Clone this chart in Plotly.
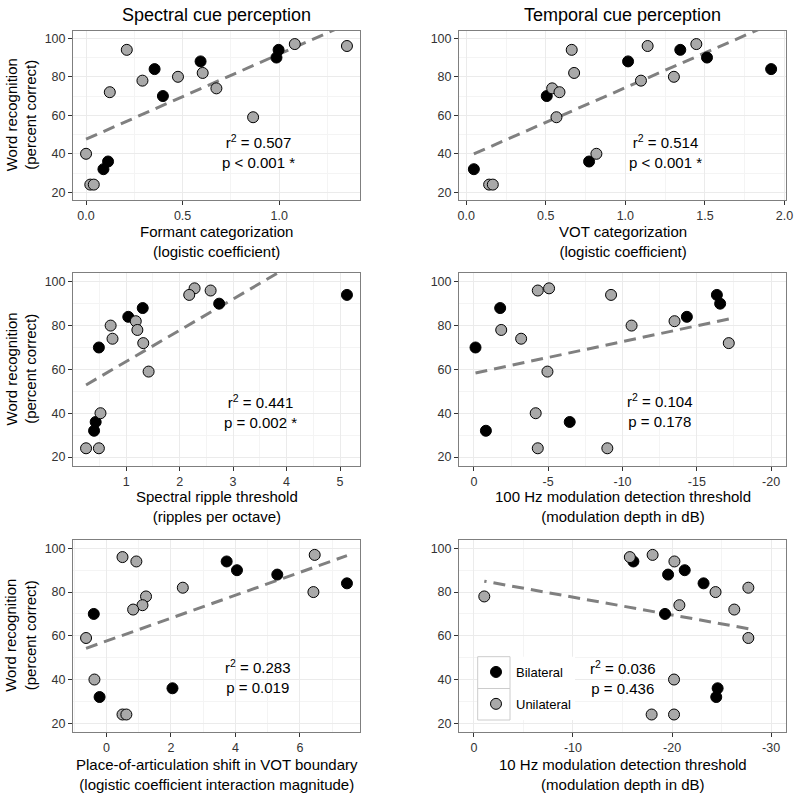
import numpy as np
import plotly.graph_objects as go

# ---------------- data (one entry per listener) ----------------
group = ["Bilateral"] * 7 + ["Unilateral"] * 12
word_recognition = [94, 90, 88, 84, 70, 36, 32,
                    97, 96, 94, 82, 80, 78, 74, 72, 59, 40, 24, 24]

formant_categorization = [0.997, 0.986, 0.593, 0.355, 0.398, 0.114, 0.090,
                          1.081, 1.351, 0.211, 0.604, 0.476, 0.292, 0.675, 0.123, 0.865, 0.000, 0.022, 0.040]
vot_categorization = [1.345, 1.513, 1.017, 1.916, 0.506, 0.772, 0.048,
                      1.446, 1.140, 0.663, 0.678, 1.305, 1.098, 0.540, 0.586, 0.567, 0.818, 0.144, 0.167]
ripple_threshold = [5.13, 2.74, 1.31, 1.04, 0.49, 0.43, 0.40,
                    2.28, 2.58, 2.18, 1.18, 0.71, 1.21, 0.745, 1.32, 1.42, 0.52, 0.25, 0.49]
am100_threshold = [-16.35, -16.57, -1.77, -14.33, -0.11, -6.45, -0.81,
                   -5.06, -4.30, -9.23, -13.50, -10.61, -1.84, -3.18, -17.15, -4.95, -4.16, -4.30, -8.98]
poa_shift = [3.73, 4.05, 5.30, 7.46, -0.39, 2.05, -0.21,
             6.46, 0.50, 0.93, 2.37, 6.42, 1.23, 1.12, 0.83, -0.63, -0.37, 0.50, 0.62]
am10_threshold = [-16.1, -21.28, -19.6, -23.18, -19.29, -24.6, -24.46,
                  -18.04, -15.74, -20.24, -27.70, -24.39, -1.05, -20.74, -26.28, -27.70, -20.2, -17.94, -20.2]

x_titles = ["Formant categorization<br>(logistic coefficient)",
            "VOT categorization<br>(logistic coefficient)",
            "Spectral ripple threshold<br>(ripples per octave)",
            "100 Hz modulation detection threshold<br>(modulation depth in dB)",
            "Place-of-articulation shift in VOT boundary<br>(logistic coefficient interaction magnitude)",
            "10 Hz modulation detection threshold<br>(modulation depth in dB)"]
y_title = "Word recognition<br>(percent correct)"
r2_labels = ["0.507", "0.514", "0.441", "0.104", "0.283", "0.036"]
p_labels = ["p < 0.001 *", "p < 0.001 *", "p = 0.002 *", "p = 0.178", "p = 0.019", "p = 0.436"]

x_tickvals = [[0, 0.5, 1.0], [0, 0.5, 1.0, 1.5, 2.0], [1, 2, 3, 4, 5],
              [0, -5, -10, -15, -20], [0, 2, 4, 6], [0, -10, -20, -30]]
x_ticktext = [["0.0", "0.5", "1.0"], ["0.0", "0.5", "1.0", "1.5", "2.0"], ["1", "2", "3", "4", "5"],
              ["0", "-5", "-10", "-15", "-20"], ["0", "2", "4", "6"], ["0", "-10", "-20", "-30"]]
x_fixed_limits = [None, None, None, (0, -20), None, (0, -30)]
y_tickvals = [20, 40, 60, 80, 100]
y_limits = (20, 100)
column_titles = ["Spectral cue perception", "Temporal cue perception"]

# ---------------- layout geometry ----------------
W, H = 800, 797
FONT = "Liberation Sans, Arial, Helvetica, sans-serif"
col_px = [(73, 360), (459, 786)]
row_px = [(30.6, 200), (273, 465.8), (539.6, 732)]
xtitle_mid_px = [241.5, 506.8, 774]
ytitle_x_px = 21
ann_px = [(258.3, 151.7), (665.5, 151.7), (260, 411.2),
          (659.3, 410.9), (257.3, 676.7), (622.7, 677)]

xs_all = [formant_categorization, vot_categorization, ripple_threshold,
          am100_threshold, poa_shift, am10_threshold]
colors = {"Bilateral": "black", "Unilateral": "#A9A9A9"}

fig = go.Figure()
layout = dict(width=W, height=H, margin=dict(l=0, r=0, t=0, b=0),
              paper_bgcolor="white", plot_bgcolor="white",
              font=dict(family=FONT, color="black"), showlegend=True)
annotations = []

y_arr = np.array(word_recognition, dtype=float)
gr = np.array(group)
for i, xs in enumerate(xs_all):
    k = i + 1
    r, c = divmod(i, 2)
    xa = "x" if k == 1 else f"x{k}"
    ya = "y" if k == 1 else f"y{k}"
    x_arr = np.array(xs, dtype=float)

    # regression line (lm over all listeners)
    m, b = np.polyfit(x_arr, y_arr, 1)
    xl = np.array([x_arr.min(), x_arr.max()])
    fig.add_trace(go.Scatter(x=xl, y=m * xl + b, mode="lines", xaxis=xa, yaxis=ya,
                             line=dict(color="#808080", width=3, dash="12px,7px"),
                             showlegend=False, hoverinfo="skip"))
    for g in ["Bilateral", "Unilateral"]:
        sel = gr == g
        fig.add_trace(go.Scatter(x=x_arr[sel], y=y_arr[sel], mode="markers", name=g,
                                 xaxis=xa, yaxis=ya, legendgroup=g,
                                 showlegend=(k == 6),
                                 marker=dict(size=11, color=colors[g],
                                             line=dict(color="black", width=1))))

    # axis ranges (ggplot-style 5% expansion)
    if x_fixed_limits[i] is None:
        lo, hi = x_arr.min(), x_arr.max()
    else:
        lo, hi = x_fixed_limits[i]
    span = hi - lo
    xr = [lo - 0.05 * span, hi + 0.05 * span]
    yspan = y_limits[1] - y_limits[0]
    yr = [y_limits[0] - 0.05 * yspan, y_limits[1] + 0.05 * yspan]

    x0p, x1p = col_px[c]
    y0p, y1p = row_px[r]
    xdom = [x0p / W, x1p / W]
    ydom = [1 - y1p / H, 1 - y0p / H]
    tv = x_tickvals[i]
    step = abs(tv[1] - tv[0])
    common = dict(showline=True, mirror=True, linecolor="#7F7F7F", linewidth=1,
                  ticks="outside", ticklen=4, tickwidth=1, tickcolor="#333333",
                  showgrid=True, gridcolor="#EBEBEB", gridwidth=1, zeroline=False,
                  automargin=False,
                  tickfont=dict(size=12.5, color="#333333", family=FONT))
    layout["xaxis" if k == 1 else f"xaxis{k}"] = dict(
        domain=xdom, anchor=ya, range=xr, tickmode="array", tickvals=tv, ticktext=x_ticktext[i],
        minor=dict(showgrid=True, gridcolor="#F4F4F4", gridwidth=0.6, dtick=step / 2,
                   tick0=tv[0] + step / 2 * (1 if tv[1] > tv[0] else -1), ticks=""),
        **common)
    layout["yaxis" if k == 1 else f"yaxis{k}"] = dict(
        domain=ydom, anchor=xa, range=yr, tickmode="array", tickvals=y_tickvals,
        minor=dict(showgrid=True, gridcolor="#F4F4F4", gridwidth=0.6, dtick=10, tick0=10, ticks=""),
        **common)

    # axis titles
    annotations.append(dict(text=x_titles[i], xref="paper", yref="paper",
                            x=(x0p + x1p) / 2 / W, y=1 - xtitle_mid_px[r] / H,
                            showarrow=False, xanchor="center", yanchor="middle", align="center",
                            font=dict(size=15, color="black", family=FONT)))
    if c == 0:
        annotations.append(dict(text=y_title, xref="paper", yref="paper",
                                x=ytitle_x_px / W, y=1 - (y0p + y1p) / 2 / H, textangle=-90,
                                showarrow=False, xanchor="center", yanchor="middle", align="center",
                                font=dict(size=15, color="black", family=FONT)))

    # statistics text
    ax_px, ay_px = ann_px[i]
    annotations.append(dict(text=f"r<sup>2</sup> = {r2_labels[i]}<br>{p_labels[i]}",
                            xref=f"{xa} domain", yref=f"{ya} domain",
                            x=(ax_px - x0p) / (x1p - x0p), y=(y1p - ay_px) / (y1p - y0p),
                            showarrow=False, xanchor="center", yanchor="middle", align="center",
                            font=dict(size=15, color="black", family=FONT)))

for j, t in enumerate(column_titles):
    x0p, x1p = col_px[j]
    annotations.append(dict(text=t, xref="paper", yref="paper", x=(x0p + x1p) / 2 / W,
                            y=1 - 15 / H, showarrow=False, xanchor="center", yanchor="middle",
                            font=dict(size=18, color="black", family=FONT)))

# legend key boxes (ggplot style)
shapes = [dict(type="rect", xref="paper", yref="paper", x0=477.7 / W, x1=575 / W,
               y0=1 - 720 / H, y1=1 - 656.7 / H, fillcolor="white", line=dict(width=0), layer="above")]
for (ya0, ya1) in [(656.7, 688.5), (688.5, 720)]:
    shapes.append(dict(type="rect", xref="paper", yref="paper", x0=477.7 / W, x1=510 / W,
                       y0=1 - ya1 / H, y1=1 - ya0 / H, fillcolor="rgba(0,0,0,0)",
                       line=dict(color="#CCCCCC", width=1), layer="above"))

layout["annotations"] = annotations
layout["shapes"] = shapes
layout["legend"] = dict(x=476 / W, y=1 - 657 / H, xanchor="left", yanchor="top",
                        bgcolor="rgba(0,0,0,0)", borderwidth=0, traceorder="grouped",
                        tracegroupgap=12, itemwidth=30,
                        font=dict(size=13, color="black", family=FONT))
fig.update_layout(**layout)
fig.write_html("out.html", config={"displayModeBar": False},
               post_script="document.body.style.margin='0';document.body.style.padding='0';")
